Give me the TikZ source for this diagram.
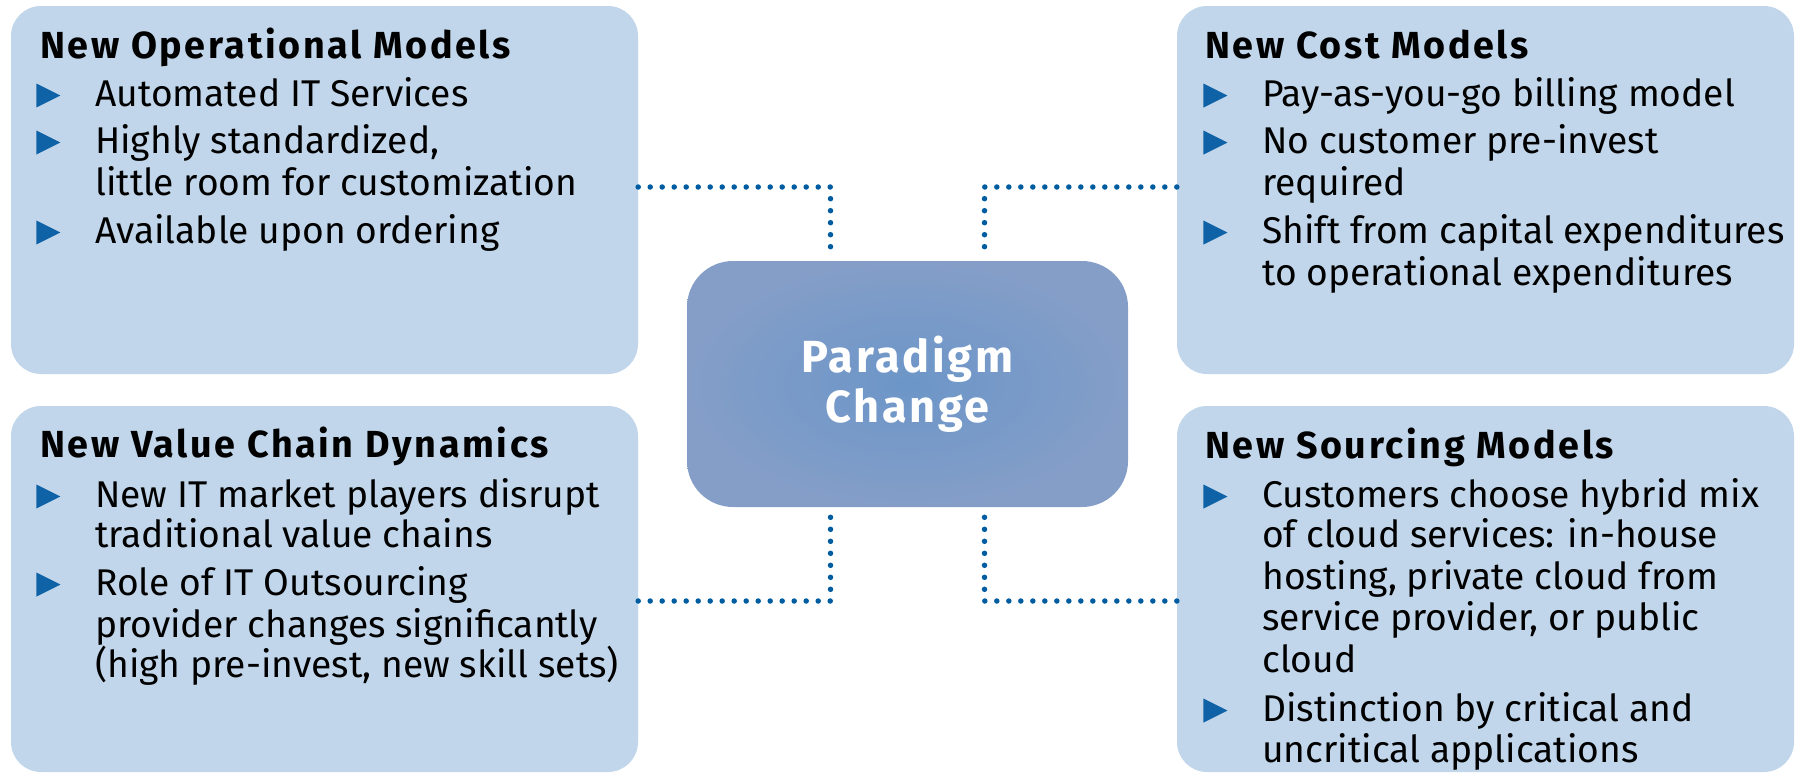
\documentclass[tikz,border=0pt]{standalone}
\usepackage{fontspec}
\setmainfont{Fira Sans}
\usetikzlibrary{positioning, shapes.geometric}
\definecolor{paleblue}{RGB}{193,214,234}
\definecolor{hubinner}{RGB}{108,150,200}
\definecolor{hubouter}{RGB}{132,158,200}
\definecolor{dotblue}{RGB}{0,92,160}
\definecolor{bulletblue}{RGB}{16,98,166}

\begin{document}
\begin{tikzpicture}[x=1pt, y=-1pt]
			\tikzstyle{field}=[rounded corners=30pt, fill=paleblue, draw=none, minimum width=627pt, minimum height=368pt]
			\tikzstyle{hub}=[rounded corners=46pt, inner color=hubinner, outer color=hubouter, minimum width=441pt, minimum height=246pt, text=white, align=center, font=\fontsize{45}{50}\selectfont\bfseries\addfontfeature{LetterSpace=6}]
			\tikzstyle{boxhead}=[anchor=base west, inner sep=0pt, font=\fontsize{37.7}{42}\selectfont\bfseries\addfontfeature{LetterSpace=7}]
			\tikzstyle{txt}=[anchor=base west, inner sep=0pt, font=\fontsize{37.2}{42}\selectfont]
			\tikzstyle{bul}=[isosceles triangle, isosceles triangle stretches, fill=bulletblue, inner sep=0pt, minimum width=24pt, minimum height=24pt]
			\tikzstyle{dotlink}=[draw=dotblue, line width=5.5pt, line cap=round, dash pattern=on 0pt off 12pt]
			%%
			\useasboundingbox (0,0) rectangle (1795,774);
			
			\node (b1) at (324.5,190) [field] {};
			\node (b2) at (1485.5,190) [field, minimum width=617pt] {};
			\node (b3) at (324.5,589) [field, minimum height=366pt] {};
			\node (b4) at (1485.5,589) [field, minimum width=617pt, minimum height=366pt] {};
			\node (c) at (907.5,384) [hub] {Paradigm\\Change};
			
			\draw [dotlink] ([yshift=3pt]b1.east) -| ([xshift=-77pt, yshift=7pt]c.north);
			\draw [dotlink] ([yshift=3pt]b2.west) -| ([xshift=77pt, yshift=7pt]c.north);
			\draw [dotlink] ([yshift=-12pt]b3.east) -| ([xshift=-77pt, yshift=-7pt]c.south);
			\draw [dotlink] ([yshift=-12pt]b4.west) -| ([xshift=77pt, yshift=-7pt]c.south);
			
			%% top left
			\node (h1) at (40,58) [boxhead] {New Operational Models};
			\node (l11) at (95,106) [txt] {Automated IT Services};
			\node (l12) at (95,153) [txt] {Highly standardized,};
			\node (l13) at (95,195) [txt] {little room for customization};
			\node (l14) at (95,243) [txt] {Available upon ordering};
			\node [bul, left=34pt of l11.base west, yshift=10.5pt](p11) {};
			\node [bul, left=34pt of l12.base west, yshift=10.5pt](p12) {};
			\node [bul, left=34pt of l14.base west, yshift=10.5pt](p14) {};
			
			%% top right
			\node (h2) at (1205,58) [boxhead] {New Cost Models};
			\node (l21) at (1262,106) [txt] {Pay-as-you-go billing model};
			\node (l22) at (1262,153) [txt] {No customer pre-invest};
			\node (l23) at (1262,195) [txt] {required};
			\node (l24) at (1262,243) [txt] {Shift from capital expenditures};
			\node (l25) at (1262,285) [txt] {to operational expenditures};
			\node [bul, left=34pt of l21.base west, yshift=10.5pt](p21) {};
			\node [bul, left=34pt of l22.base west, yshift=10.5pt](p22) {};
			\node [bul, left=34pt of l24.base west, yshift=10.5pt](p24) {};
			
			%% bottom left
			\node (h3) at (40,457) [boxhead] {New Value Chain Dynamics};
			\node (l31) at (95,507) [txt] {New IT market players disrupt};
			\node (l32) at (95,547) [txt] {traditional value chains};
			\node (l33) at (95,595) [txt] {Role of IT Outsourcing};
			\node (l34) at (95,637) [txt] {provider changes significantly};
			\node (l35) at (95,677) [txt] {(high pre-invest, new skill sets)};
			\node [bul, left=34pt of l31.base west, yshift=10.5pt](p31) {};
			\node [bul, left=34pt of l33.base west, yshift=10.5pt](p33) {};
			
			%% bottom right
			\node (h4) at (1205,458) [boxhead] {New Sourcing Models};
			\node (l41) at (1262,507) [txt] {Customers choose hybrid mix};
			\node (l42) at (1262,547) [txt] {of cloud services: in-house};
			\node (l43) at (1262,589) [txt] {hosting, private cloud from};
			\node (l44) at (1262,630) [txt] {service provider, or public};
			\node (l45) at (1262,672) [txt] {cloud};
			\node (l46) at (1262,721) [txt] {Distinction by critical and};
			\node (l47) at (1262,762) [txt] {uncritical applications};
			\node [bul, left=34pt of l41.base west, yshift=10.5pt](p41) {};
			\node [bul, left=34pt of l46.base west, yshift=10.5pt](p46) {};
\end{tikzpicture}
\end{document}
